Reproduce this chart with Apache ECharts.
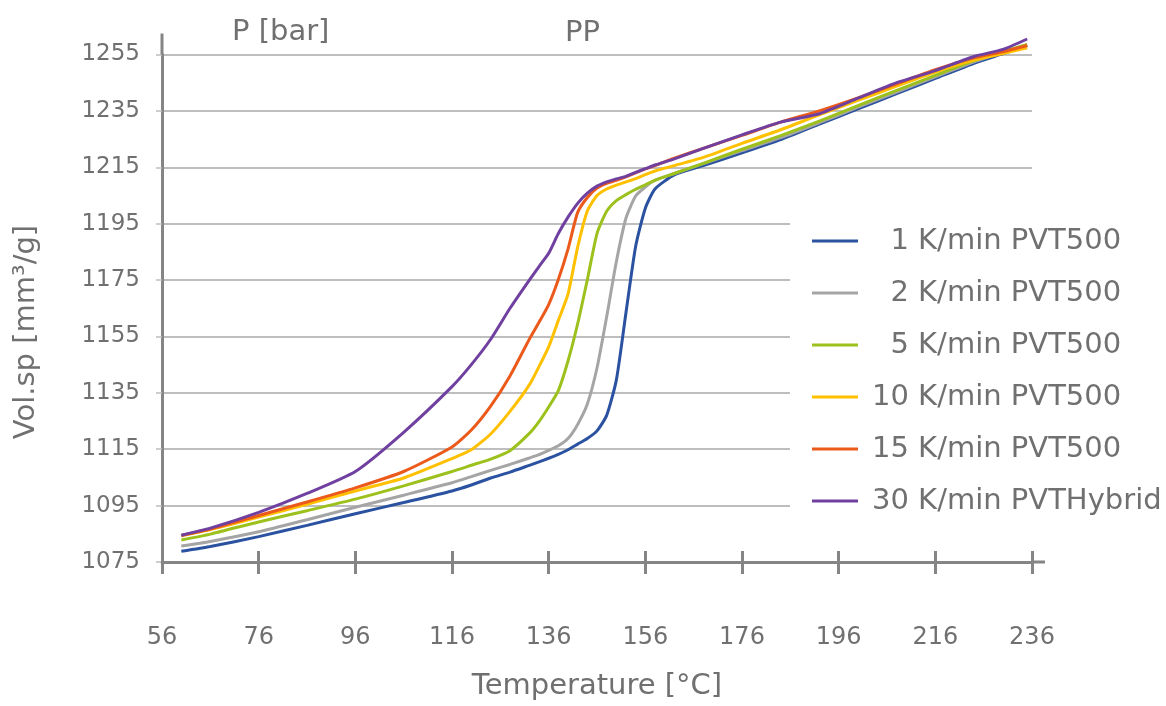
<!DOCTYPE html>
<html>
<head>
<meta charset="utf-8">
<script src="https://cdn.jsdelivr.net/npm/echarts@6/dist/echarts.min.js"></script>
<style>
html,body{margin:0;padding:0;background:#fff;}
#chart{width:1166px;height:706px;}
</style>
</head>
<body>
<div id="chart"></div>
<script>
// Temperature [°C] sample points (shared by all series)
const temps = [60, 66, 76, 86, 96, 106, 116, 120, 124, 128, 132, 134, 136, 138, 140, 142, 144, 146, 148, 150, 152, 154, 156, 158, 162, 168, 176, 184, 192, 200, 208, 216, 224, 230, 235];

// Specific volume [mm³/g]
const v1K  = [1078.8,1080.5,1084.0,1088.0,1092.1,1096.1,1100.2,1102.3,1104.8,1106.9,1109.3,1110.5,1111.8,1113.2,1114.8,1116.8,1118.8,1121.5,1127.0,1139.5,1163.5,1187.0,1200.5,1207.3,1212.3,1215.6,1220.1,1224.8,1230.3,1235.7,1241.1,1246.5,1251.9,1255.3,1258.2];
const v2K  = [1080.7,1082.3,1085.7,1090.0,1094.4,1098.7,1103.1,1105.3,1107.5,1109.6,1111.9,1113.1,1114.6,1116.2,1118.8,1123.8,1131.0,1143.8,1162.0,1181.5,1197.0,1204.8,1208.0,1210.4,1212.8,1216.3,1220.9,1225.5,1230.8,1236.3,1241.7,1247.1,1252.4,1255.8,1258.4];
const v5K  = [1082.8,1084.9,1089.2,1093.2,1097.3,1102.0,1107.1,1109.3,1111.5,1114.5,1120.6,1124.8,1130.0,1135.8,1146.3,1159.5,1175.1,1191.5,1199.4,1203.2,1205.3,1207.2,1208.8,1210.4,1212.8,1216.4,1221.4,1226.2,1231.4,1236.9,1242.3,1247.6,1252.8,1256.0,1258.6];
const v10K = [1084.3,1086.5,1090.9,1095.5,1100.2,1104.8,1111.7,1114.8,1120.4,1128.4,1137.8,1144.3,1151.3,1160.7,1170.0,1186.7,1199.5,1205.0,1207.3,1208.7,1209.8,1211.0,1212.4,1213.7,1215.6,1218.5,1223.5,1228.3,1233.6,1238.7,1243.8,1248.8,1253.0,1255.3,1257.4];
const v15K = [1084.4,1086.7,1091.5,1096.3,1101.3,1107.1,1115.8,1121.8,1130.3,1141.0,1154.0,1160.0,1166.3,1175.2,1186.0,1199.0,1204.3,1207.6,1209.3,1210.4,1211.6,1213.0,1214.4,1215.6,1218.2,1221.7,1226.3,1231.0,1235.0,1239.6,1244.6,1249.6,1253.8,1256.0,1258.2];
const v30K = [1084.5,1087.0,1092.6,1099.3,1107.1,1121.0,1137.2,1145.0,1154.0,1165.0,1175.0,1179.8,1184.5,1191.5,1197.3,1202.2,1205.8,1208.3,1209.8,1210.9,1211.8,1213.2,1214.5,1215.8,1218.0,1221.7,1226.5,1231.0,1234.0,1239.5,1245.0,1249.3,1254.3,1256.8,1260.5];

const seriesNames = ['  1 K/min PVT500', '  2 K/min PVT500', '  5 K/min PVT500', '10 K/min PVT500', '15 K/min PVT500', '30 K/min PVTHybrid'];
const seriesValues = [v1K, v2K, v5K, v10K, v15K, v30K];

// x ticks 56..236 step 20, y ticks 1075..1255 step 20
const xMin = 56, xMax = 236, xStep = 20;
const yMin = 1075, yMax = 1255, yStep = 20;

const colors = ['#2A52A0', '#A5A5A5', '#9DC11C', '#FFC000', '#EB5A1A', '#7040A0'];
const FONT = 'DejaVu Sans';
const TXT = '#707070';

const chart = echarts.init(document.getElementById('chart'), null, {renderer: 'canvas'});

const series = seriesNames.map((name, i) => ({
  name: name,
  type: 'line',
  xAxisIndex: 0,
  yAxisIndex: 0,
  data: temps.map((t, k) => [t, seriesValues[i][k]]),
  symbol: 'none',
  smooth: 0.2,
  clip: false,
  lineStyle: {color: colors[i], width: 3},
  itemStyle: {color: colors[i]},
  z: 3 + i
}));

chart.setOption({
  animation: false,
  backgroundColor: '#fff',
  textStyle: {fontFamily: FONT},
  grid: {left: 162, right: 134, top: 54.5, bottom: 133.5, containLabel: false},
  xAxis: [{
    type: 'value', min: xMin, max: xMax, interval: xStep, position: 'bottom',
    axisLine: {show: true, onZero: false, lineStyle: {color: '#858585', width: 3}},
    axisTick: {show: true, inside: false, length: 12, lineStyle: {color: '#858585', width: 3}},
    axisLabel: {show: true, margin: 64, fontSize: 24, color: TXT, fontFamily: FONT, formatter: v => String(v)},
    splitLine: {show: false},
    name: 'Temperature [°C]', nameLocation: 'middle', nameGap: 110,
    nameTextStyle: {fontSize: 29, color: TXT, fontFamily: FONT}
  }, {
    type: 'value', min: xMin, max: xMax, interval: xStep, position: 'bottom', offset: 0,
    axisLine: {show: false},
    axisTick: {show: true, inside: true, length: 11, lineStyle: {color: '#858585', width: 3}},
    axisLabel: {show: false},
    splitLine: {show: false}
  }],
  yAxis: [{
    type: 'value', min: yMin, max: yMax, interval: yStep,
    axisLine: {show: true, onZero: false, lineStyle: {color: '#858585', width: 3}},
    axisTick: {show: true, inside: false, length: 6, lineStyle: {color: '#BFBFBF', width: 1.5}},
    axisLabel: {show: true, margin: 22, fontSize: 23, color: TXT, fontFamily: FONT, formatter: v => String(v)},
    splitLine: {show: true, lineStyle: {color: '#BEBEBE', width: 1.8}}
  }],
  legend: {
    orient: 'vertical',
    left: 790, top: 212,
    padding: [14, 10, 14, 22],
    backgroundColor: '#fff',
    itemWidth: 46, itemHeight: 14,
    itemGap: 22,
    selectedMode: false,
    textStyle: {fontSize: 29, color: TXT, fontFamily: FONT, lineHeight: 30, padding: [0, 0, 0, 9]},
    data: seriesNames.map((n, i) => ({name: n, icon: 'path://M0,6.5 L46,6.5 L46,9.5 L0,9.5 Z', itemStyle: {color: colors[i]}}))
  },
  series: series
});

// Axis line extensions beyond the last tick (as in the reference) and text labels
const origin = chart.convertToPixel({xAxisIndex: 0, yAxisIndex: 0}, [xMin, yMin]);
const corner = chart.convertToPixel({xAxisIndex: 0, yAxisIndex: 0}, [xMax, yMax]);
chart.setOption({
  graphic: [
    {type: 'line', z: 10, shape: {x1: origin[0], y1: corner[1], x2: origin[0], y2: corner[1] - 21}, style: {stroke: '#858585', lineWidth: 3}},
    {type: 'line', z: 10, shape: {x1: corner[0], y1: origin[1], x2: corner[0] + 13, y2: origin[1]}, style: {stroke: '#858585', lineWidth: 3}},
    {type: 'text', z: 10, x: 26, y: 332, rotation: Math.PI / 2,
      style: {text: 'Vol.sp [mm³/g]', font: '29px "DejaVu Sans"', fill: TXT, align: 'center', verticalAlign: 'middle'}},
    {type: 'text', z: 10, x: 232, y: 32,
      style: {text: 'P [bar]', font: '29px "DejaVu Sans"', fill: TXT, align: 'left', verticalAlign: 'middle'}},
    {type: 'text', z: 10, x: 565, y: 33,
      style: {text: 'PP', font: '29px "DejaVu Sans"', fill: TXT, align: 'left', verticalAlign: 'middle'}}
  ]
});
</script>
</body>
</html>
